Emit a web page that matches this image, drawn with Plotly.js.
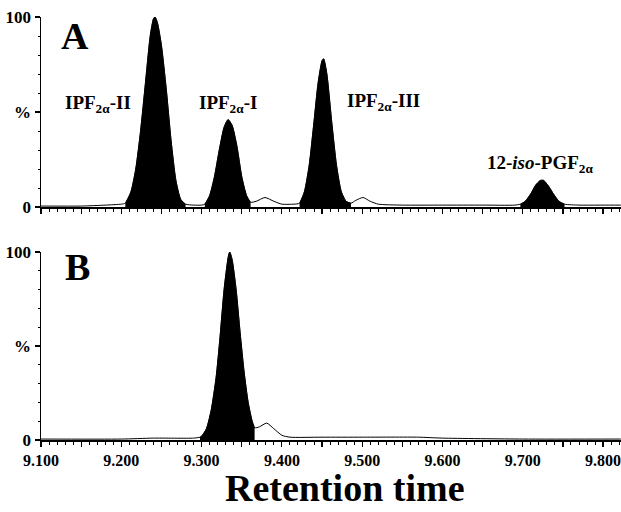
<!DOCTYPE html>
<html>
<head>
<meta charset="utf-8">
<script src="https://cdn.plot.ly/plotly-3.0.1.min.js"></script>
<style>html,body{margin:0;padding:0;background:#fff;}#chart{width:621px;height:512px;}</style>
</head>
<body>
<div id="chart"></div>
<script>
// Panel A chromatogram (retention time, relative intensity %)
var timeA = [9.100, 9.150, 9.180, 9.200, 9.205, 9.212, 9.218, 9.224, 9.230, 9.236, 9.240, 9.242, 9.245, 9.250, 9.256, 9.262, 9.268, 9.274, 9.280, 9.290, 9.300,
             9.304, 9.310, 9.316, 9.322, 9.328, 9.333, 9.338, 9.344, 9.350, 9.356, 9.361, 9.368, 9.379, 9.390, 9.400, 9.415,
             9.422, 9.428, 9.434, 9.440, 9.445, 9.450, 9.452, 9.456, 9.462, 9.468, 9.474, 9.480, 9.486, 9.492, 9.501, 9.510, 9.520, 9.550, 9.600, 9.650, 9.690,
             9.697, 9.703, 9.710, 9.716, 9.722, 9.726, 9.732, 9.738, 9.745, 9.752, 9.770, 9.800, 9.822];
var intensityA = [0.5, 0.5, 1.0, 1.5, 2.0, 8, 20, 40, 65, 90, 99, 100, 97, 85, 62, 35, 14, 4, 1.5, 1.0, 1.0,
                  1.5, 6, 16, 30, 42, 46, 43, 32, 16, 6, 2.5, 3.0, 5.0, 3.0, 1.5, 1.5,
                  2.0, 8, 22, 45, 65, 77, 78, 70, 45, 22, 8, 3.0, 2.0, 3.5, 5.0, 3.0, 1.5, 1.0, 1.0, 1.0, 1.0,
                  1.5, 3.0, 7.0, 11.5, 14, 14, 11, 7.0, 3.0, 1.5, 1.0, 1.0, 1.0];
var fillStartA = [9.205, 9.304, 9.422, 9.697];
var fillEndA   = [9.280, 9.361, 9.486, 9.752];

// Panel B chromatogram
var timeB = [9.100, 9.200, 9.240, 9.290, 9.298, 9.300, 9.306, 9.312, 9.318, 9.323, 9.328, 9.333, 9.335, 9.338, 9.343, 9.348, 9.353, 9.358, 9.363, 9.366,
             9.372, 9.381, 9.390, 9.400, 9.410, 9.450, 9.500, 9.570, 9.600, 9.700, 9.822];
var intensityB = [0.5, 0.5, 1.0, 1.0, 1.5, 2.0, 6, 16, 33, 55, 80, 97, 100, 96, 80, 57, 36, 20, 10, 6.5,
                  7.0, 9.0, 6.0, 2.5, 1.5, 1.5, 1.5, 1.5, 1.0, 0.5, 0.5];
var fillStartB = [9.298];
var fillEndB   = [9.366];

// Axis ticks
var xTickVals = [9.10, 9.15, 9.20, 9.25, 9.30, 9.35, 9.40, 9.45, 9.50, 9.55, 9.60, 9.65, 9.70, 9.75, 9.80];
var xTickTextB = ['9.100', '', '9.200', '', '9.300', '', '9.400', '', '9.500', '', '9.600', '', '9.700', '', '9.800'];
var yTickVals = [0, 50, 100];
var yTickText = ['0', '%', '100'];

// Labels
var peakLabels = ['IPF<sub>2α</sub>-II', 'IPF<sub>2α</sub>-I', 'IPF<sub>2α</sub>-III', '12-<i>iso</i>-PGF<sub>2α</sub>'];
var panelLabels = ['A', 'B'];
var xTitle = 'Retention time';

var serif = "'Liberation Serif', 'Times New Roman', serif";

function fillTraces(t, v, starts, ends, xa, ya) {
  var out = [];
  for (var k = 0; k < starts.length; k++) {
    var xs = [], ys = [];
    for (var i = 0; i < t.length; i++) {
      if (t[i] >= starts[k] - 1e-9 && t[i] <= ends[k] + 1e-9) { xs.push(t[i]); ys.push(v[i]); }
    }
    out.push({x: xs, y: ys, xaxis: xa, yaxis: ya, type: 'scatter', mode: 'lines',
      line: {color: '#000', width: 0.8, shape: 'spline', smoothing: 0.6},
      fill: 'tozeroy', fillcolor: '#000', hoverinfo: 'skip', showlegend: false});
  }
  return out;
}

var data = [];
data = data.concat(fillTraces(timeA, intensityA, fillStartA, fillEndA, 'x', 'y'));
data.push({x: timeA, y: intensityA, xaxis: 'x', yaxis: 'y', type: 'scatter', mode: 'lines',
  line: {color: '#000', width: 1, shape: 'spline', smoothing: 0.6}, showlegend: false});
data = data.concat(fillTraces(timeB, intensityB, fillStartB, fillEndB, 'x2', 'y2'));
data.push({x: timeB, y: intensityB, xaxis: 'x2', yaxis: 'y2', type: 'scatter', mode: 'lines',
  line: {color: '#000', width: 1, shape: 'spline', smoothing: 0.6}, showlegend: false});

var xTickFont = {family: serif, size: 16, color: '#000', weight: 'bold'};
var yTickFont = {family: serif, size: 17, color: '#000', weight: 'bold'};
var xRange = [9.1, 9.8223];

function xAxis(domainAnchor, showLabels, text) {
  return {
    range: xRange, anchor: domainAnchor, showgrid: false, zeroline: false,
    showline: true, linecolor: '#000', linewidth: 1.5,
    tickmode: 'array', tickvals: xTickVals, ticktext: showLabels ? text : xTickVals.map(function(){return '';}),
    ticks: 'outside', ticklen: 5, tickwidth: 1.2, tickcolor: '#000',
    ticklabeloverflow: 'allow',
    minor: {ticks: 'outside', ticklen: 3, tickwidth: 1, tickcolor: '#000', dtick: 0.01, tick0: 9.1, showgrid: false},
    tickfont: xTickFont, fixedrange: true
  };
}
function yAxis(domain, anchor) {
  return {
    domain: domain, anchor: anchor, range: [0, 100], showgrid: false, zeroline: false,
    showline: true, linecolor: '#000', linewidth: 1.5,
    tickmode: 'array', tickvals: yTickVals, ticktext: yTickText,
    ticks: 'outside', ticklen: 5, tickwidth: 1.2, tickcolor: '#000',
    minor: {ticks: 'outside', ticklen: 2, tickwidth: 1, tickcolor: '#000', dtick: 10, showgrid: false},
    tickfont: yTickFont, fixedrange: true
  };
}

var layout = {
  width: 621, height: 512,
  margin: {l: 41, r: 0, t: 17, b: 72},
  paper_bgcolor: '#fff', plot_bgcolor: '#fff',
  xaxis: xAxis('y', false, xTickTextB),
  yaxis: yAxis([0.5508, 1.0], 'x'),
  xaxis2: xAxis('y2', true, xTickTextB),
  yaxis2: yAxis([0, 0.4444], 'x2'),
  showlegend: false,
  annotations: [
    {text: panelLabels[0], xref: 'paper', yref: 'paper', x: 0.0586, y: 0.955, xanchor: 'center', yanchor: 'middle', showarrow: false,
     font: {family: serif, size: 38, color: '#000', weight: 'bold'}},
    {text: panelLabels[1], xref: 'paper', yref: 'paper', x: 0.0625, y: 0.410, xanchor: 'center', yanchor: 'middle', showarrow: false,
     font: {family: serif, size: 38, color: '#000', weight: 'bold'}},
    {text: peakLabels[0], xref: 'paper', yref: 'paper', x: 0.0379, y: 0.795, xanchor: 'left', yanchor: 'middle', showarrow: false,
     font: {family: serif, size: 19, color: '#000', weight: 'bold'}},
    {text: peakLabels[1], xref: 'paper', yref: 'paper', x: 0.269, y: 0.795, xanchor: 'left', yanchor: 'middle', showarrow: false,
     font: {family: serif, size: 19, color: '#000', weight: 'bold'}},
    {text: peakLabels[2], xref: 'paper', yref: 'paper', x: 0.524, y: 0.800, xanchor: 'left', yanchor: 'middle', showarrow: false,
     font: {family: serif, size: 19, color: '#000', weight: 'bold'}},
    {text: peakLabels[3], xref: 'paper', yref: 'paper', x: 0.7655, y: 0.653, xanchor: 'left', yanchor: 'middle', showarrow: false,
     font: {family: serif, size: 19, color: '#000', weight: 'bold'}},
    {text: xTitle, xref: 'paper', yref: 'paper', x: 0.524, y: -0.167, xanchor: 'center', yanchor: 'bottom', showarrow: false,
     font: {family: serif, size: 38, color: '#000', weight: 'bold'}}
  ]
};

Plotly.newPlot('chart', data, layout, {staticPlot: true, displayModeBar: false});
</script>
</body>
</html>
